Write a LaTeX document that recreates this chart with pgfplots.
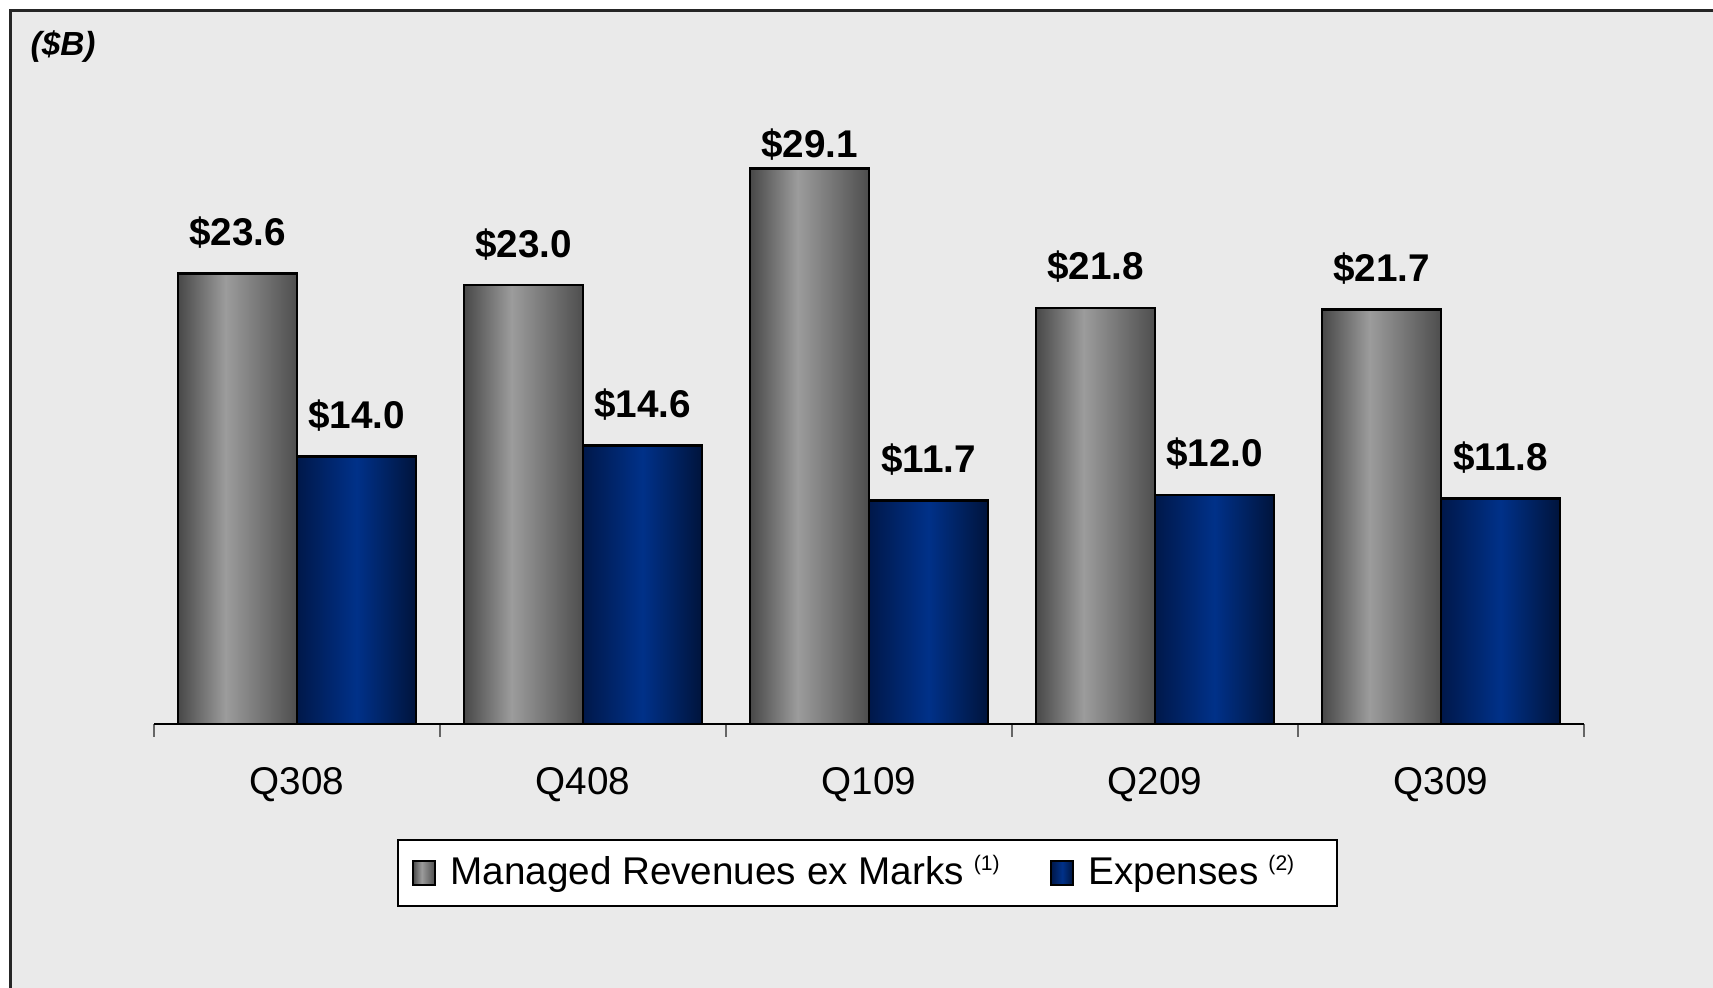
\documentclass[border=0pt]{standalone}
\usepackage{pgfplots}
\pgfplotsset{compat=1.18}
\usepackage{fontspec}
\setmainfont{Liberation Sans}

\definecolor{bgc}{HTML}{EAEAEA}
\definecolor{g1}{HTML}{484848}
\definecolor{g2}{HTML}{9C9C9C}
\definecolor{g3}{HTML}{4E4E4E}
\definecolor{b1}{HTML}{00184A}
\definecolor{b2}{HTML}{003189}
\definecolor{b3}{HTML}{00143C}
\pgfdeclarehorizontalshading{greybar}{100bp}{color(0bp)=(g1); color(25bp)=(g1); color(45bp)=(g2); color(75bp)=(g3); color(100bp)=(g3)}
\pgfdeclarehorizontalshading{bluebar}{100bp}{color(0bp)=(b1); color(25bp)=(b1); color(50bp)=(b2); color(75bp)=(b3); color(100bp)=(b3)}

\begin{document}
\begin{tikzpicture}
% background and frame
\path[use as bounding box, fill=white] (0,0) rectangle (171.3mm,98.8mm);
\fill[bgc] (1.05mm,0) rectangle (171.3mm,97.75mm);
\draw[line width=0.3mm, black!85] (1.05mm,0) -- (1.05mm,97.75mm) -- (171.3mm,97.75mm);
\node[anchor=north west, inner sep=0, font=\bfseries\itshape\fontsize{9.5}{11}\selectfont] at (3.0mm,95.8mm) {(\$B)};

\begin{axis}[
  at={(15.4mm,26.4mm)}, anchor=south west,
  scale only axis, width=143mm, height=66.8mm,
  xmin=-0.5, xmax=4.5, ymin=0, ymax=35,
  axis x line*=bottom, axis y line=none,
  x axis line style={-, black, line width=0.6pt},
  ytick=\empty,
  xtick={-0.5,0.5,1.5,2.5,3.5,4.5},
  x tick label as interval,
  xticklabels={Q308,Q408,Q109,Q209,Q309},
  tick align=outside, major tick length=1.3mm,
  xtick style={black!60, line width=0.6pt},
  xticklabel style={font=\fontsize{11}{13}\selectfont, yshift=-1.8mm},
  ybar=0pt, bar width=11.9mm,
  clip=false,
  nodes near coords={\$\pgfmathprintnumber[fixed,fixed zerofill,precision=1,assume math mode=true]{\pgfplotspointmeta}},
  every node near coord/.append style={font=\bfseries\fontsize{11}{13}\selectfont, black, yshift=1.2mm},
  gbar/.style={draw=black, line width=0.8pt, shading=greybar, bar shift=-5.95mm},
  bbar/.style={draw=black, line width=0.8pt, shading=bluebar, bar shift=5.95mm},
  legend columns=2,
  legend image code/.code={\draw[#1, line width=0.6pt] (0mm,-1.2mm) rectangle (2.2mm,1.2mm);
    \path (2.9mm,0);},
  legend style={at={(0.499,-0.223)}, anchor=center, draw=black, fill=white, line width=0.6pt,
    font=\fontsize{11}{13}\selectfont, inner ysep=2.5pt, inner xsep=4pt,
    /tikz/every even column/.append style={column sep=4.35mm}},
  legend cell align=left,
]
% Managed Revenues ex Marks / Expenses, one bar per plot so each bar gets its own shading
\addplot[gbar] coordinates {(0,23.6)};
\addplot[bbar] coordinates {(0,14.0)};
\addplot[gbar, forget plot] coordinates {(1,23.0)};
\addplot[bbar, forget plot] coordinates {(1,14.6)};
\addplot[gbar, forget plot, every node near coord/.append style={yshift=-1.7mm}] coordinates {(2,29.1)};
\addplot[bbar, forget plot] coordinates {(2,11.7)};
\addplot[gbar, forget plot] coordinates {(3,21.8)};
\addplot[bbar, forget plot] coordinates {(3,12.0)};
\addplot[gbar, forget plot] coordinates {(4,21.7)};
\addplot[bbar, forget plot] coordinates {(4,11.8)};
\legend{{Managed Revenues ex Marks\hspace{1mm}\raisebox{1.4mm}{\fontsize{6}{7}\selectfont(1)}},
        {Expenses\hspace{1mm}\raisebox{1.4mm}{\fontsize{6}{7}\selectfont(2)}\rule{2.2mm}{0pt}}}
\end{axis}
\end{tikzpicture}
\end{document}
